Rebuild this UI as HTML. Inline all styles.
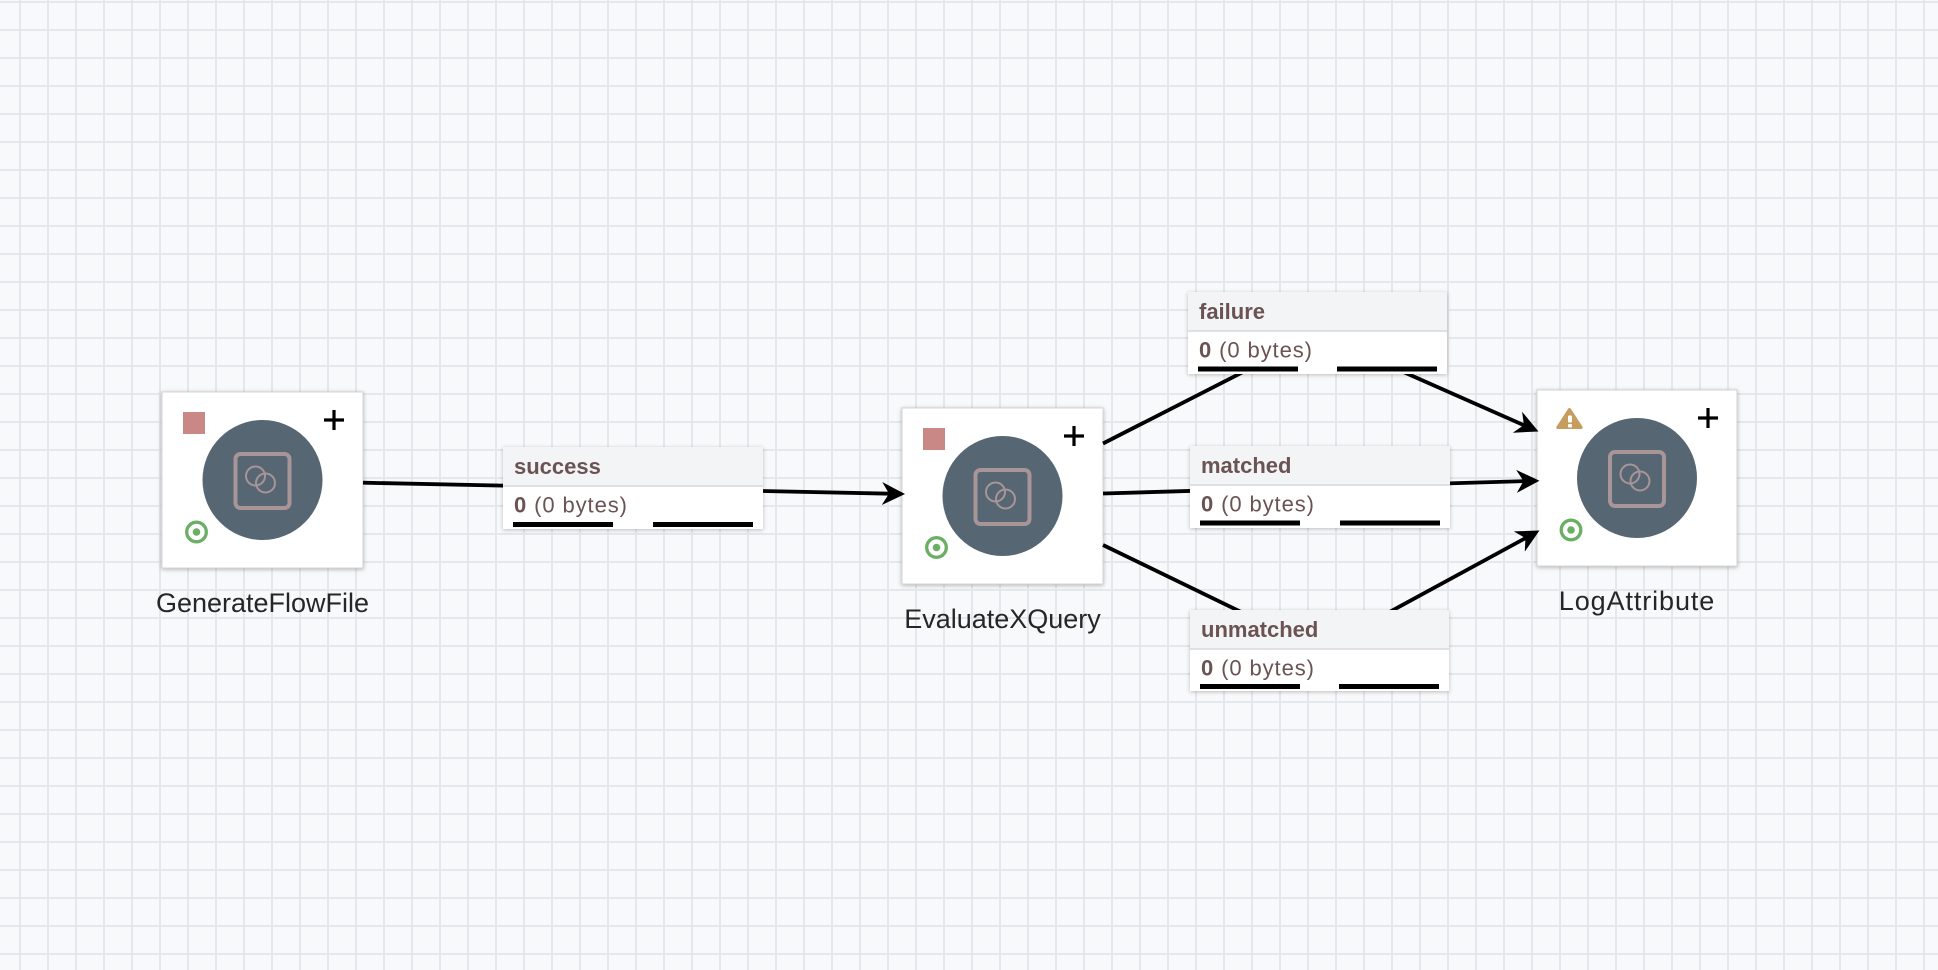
<!DOCTYPE html>
<html>
<head>
<meta charset="utf-8">
<style>
  html, body { margin:0; padding:0; }
  body {
    width:1938px; height:970px; overflow:hidden; position:relative;
    background-color:#f7f9fb;
    background-image:
      linear-gradient(to right, #e4e7eb 2px, transparent 2px),
      linear-gradient(to bottom, #e4e7eb 2px, transparent 2px);
    background-size:28px 28px, 28px 28px;
    background-position:19px 0, 0 1px;
    font-family:"Liberation Sans", Arial, sans-serif;
  }
  svg { position:absolute; left:0; top:0; }
  text { font-family:"Liberation Sans", Arial, sans-serif; }
</style>
</head>
<body>
<svg width="1938" height="970" viewBox="0 0 1938 970" xmlns="http://www.w3.org/2000/svg">
  <defs>
    <filter id="sh" x="-10%" y="-10%" width="120%" height="120%">
      <feDropShadow dx="0" dy="1" stdDeviation="2" flood-color="#000" flood-opacity="0.28"/>
    </filter>
    <filter id="sh2" x="-10%" y="-20%" width="120%" height="140%">
      <feDropShadow dx="0" dy="1" stdDeviation="2" flood-color="#000" flood-opacity="0.25"/>
    </filter>
  </defs>

  <!-- ===== Processor: GenerateFlowFile ===== -->
  <g transform="translate(162,392)">
    <rect x="0" y="0" width="201" height="176" fill="#fff" stroke="#d2d5d9" stroke-width="1" filter="url(#sh)"/>
    <rect x="21" y="20" width="22" height="22" fill="#c98786"/>
    <path d="M162 28h20M172 18v20" stroke="#000" stroke-width="3.2" fill="none"/>
    <circle cx="100.5" cy="88" r="60" fill="#566673"/>
    <rect x="73.5" y="62" width="54" height="54" rx="5" fill="none" stroke="#a89598" stroke-width="4"/>
    <circle cx="93.5" cy="84" r="9.5" fill="none" stroke="#a89598" stroke-width="2"/>
    <circle cx="103.5" cy="91" r="9.5" fill="none" stroke="#a89598" stroke-width="2"/>
    <circle cx="34.5" cy="140" r="9.8" fill="none" stroke="#6aaf63" stroke-width="3.3"/>
    <circle cx="34.5" cy="140" r="3.8" fill="#6aaf63"/>
    <text x="100.5" y="220" text-anchor="middle" font-size="27" fill="#262626">GenerateFlowFile</text>
  </g>

  <!-- ===== Processor: EvaluateXQuery ===== -->
  <g transform="translate(902,408)">
    <rect x="0" y="0" width="201" height="176" fill="#fff" stroke="#d2d5d9" stroke-width="1" filter="url(#sh)"/>
    <rect x="21" y="20" width="22" height="22" fill="#c98786"/>
    <path d="M162 28h20M172 18v20" stroke="#000" stroke-width="3.2" fill="none"/>
    <circle cx="100.5" cy="88" r="60" fill="#566673"/>
    <rect x="73.5" y="62" width="54" height="54" rx="5" fill="none" stroke="#a89598" stroke-width="4"/>
    <circle cx="93.5" cy="84" r="9.5" fill="none" stroke="#a89598" stroke-width="2"/>
    <circle cx="103.5" cy="91" r="9.5" fill="none" stroke="#a89598" stroke-width="2"/>
    <circle cx="34.5" cy="139.5" r="9.8" fill="none" stroke="#6aaf63" stroke-width="3.3"/>
    <circle cx="34.5" cy="139.5" r="3.8" fill="#6aaf63"/>
    <text x="100.5" y="220" text-anchor="middle" font-size="27" fill="#262626">EvaluateXQuery</text>
  </g>

  <!-- ===== Processor: LogAttribute ===== -->
  <g transform="translate(1537,390)">
    <rect x="0" y="0" width="200" height="176" fill="#fff" stroke="#d2d5d9" stroke-width="1" filter="url(#sh)"/>
    <polygon points="32.5,19.5 44.2,37.5 20.8,37.5" fill="#c79c5f" stroke="#c79c5f" stroke-width="3" stroke-linejoin="round"/>
    <rect x="31" y="25.5" width="4" height="7" rx="1" fill="#fff"/>
    <rect x="31" y="34" width="4" height="3.5" rx="1" fill="#fff"/>
    <path d="M161 28h20M171 18v20" stroke="#000" stroke-width="3.2" fill="none"/>
    <circle cx="100" cy="88" r="60" fill="#566673"/>
    <rect x="73" y="62" width="54" height="54" rx="5" fill="none" stroke="#a89598" stroke-width="4"/>
    <circle cx="93" cy="84" r="9.5" fill="none" stroke="#a89598" stroke-width="2"/>
    <circle cx="103" cy="91" r="9.5" fill="none" stroke="#a89598" stroke-width="2"/>
    <circle cx="34" cy="140" r="9.8" fill="none" stroke="#6aaf63" stroke-width="3.3"/>
    <circle cx="34" cy="140" r="3.8" fill="#6aaf63"/>
    <text x="100" y="220" text-anchor="middle" font-size="27" letter-spacing="0.9" fill="#262626">LogAttribute</text>
  </g>

  <!-- ===== Connections ===== -->
  <g stroke="#000" stroke-width="3.8" fill="none" stroke-linejoin="round">
    <polyline points="363,482.7 893,493.75"/>
    <polyline points="1103,443.5 1317.5,334 1527,426.6"/>
    <polyline points="1103,493.5 1527.5,481.05"/>
    <polyline points="1103,545 1319.5,650 1529,536.2"/>
  </g>
  <g fill="#000" stroke="none">
    <polygon points="905,494 881.76,505.02 889,493.67 882.24,482.02"/>
    <polygon points="1538.5,431.5 1512.8,432.7 1523.9,425.0 1522.1,411.7"/>
    <polygon points="1539.5,480.7 1516.85,492.87 1523.51,481.17 1516.17,469.87"/>
    <polygon points="1539.5,530.5 1524.78,551.59 1525.44,538.14 1513.8,531.37"/>
  </g>

  <!-- ===== Connection labels ===== -->
  <g transform="translate(503,447)">
    <rect width="260" height="82" fill="#fff" filter="url(#sh2)"/>
    <rect width="260" height="38" fill="#f3f4f6"/>
    <rect y="38" width="260" height="2" fill="#dde1e5"/>
    <text x="11" y="27" font-size="22" font-weight="bold" fill="#6b5353">success</text>
    <text x="11" y="65.5" font-size="22" letter-spacing="0.9" fill="#6b5353"><tspan font-weight="bold">0</tspan> (0 bytes)</text>
    <rect x="10" y="75" width="100" height="5" fill="#000"/>
    <rect x="150" y="75" width="100" height="5" fill="#000"/>
  </g>

  <g transform="translate(1188,292)">
    <rect width="259" height="82" fill="#fff" filter="url(#sh2)"/>
    <rect width="259" height="38" fill="#f3f4f6"/>
    <rect y="38" width="259" height="2" fill="#dde1e5"/>
    <text x="11" y="27" font-size="22" font-weight="bold" fill="#6b5353">failure</text>
    <text x="11" y="65.5" font-size="22" letter-spacing="0.9" fill="#6b5353"><tspan font-weight="bold">0</tspan> (0 bytes)</text>
    <rect x="10" y="74.5" width="100" height="5" fill="#000"/>
    <rect x="149" y="74.5" width="100" height="5" fill="#000"/>
  </g>

  <g transform="translate(1190,446)">
    <rect width="260" height="82" fill="#fff" filter="url(#sh2)"/>
    <rect width="260" height="38" fill="#f3f4f6"/>
    <rect y="38" width="260" height="2" fill="#dde1e5"/>
    <text x="11" y="27" font-size="22" font-weight="bold" fill="#6b5353">matched</text>
    <text x="11" y="65.5" font-size="22" letter-spacing="0.9" fill="#6b5353"><tspan font-weight="bold">0</tspan> (0 bytes)</text>
    <rect x="10" y="74.5" width="100" height="5" fill="#000"/>
    <rect x="150" y="74.5" width="100" height="5" fill="#000"/>
  </g>

  <g transform="translate(1190,610)">
    <rect width="259" height="81" fill="#fff" filter="url(#sh2)"/>
    <rect width="259" height="38" fill="#f3f4f6"/>
    <rect y="38" width="259" height="2" fill="#dde1e5"/>
    <text x="11" y="27" font-size="22" font-weight="bold" fill="#6b5353">unmatched</text>
    <text x="11" y="65.5" font-size="22" letter-spacing="0.9" fill="#6b5353"><tspan font-weight="bold">0</tspan> (0 bytes)</text>
    <rect x="10" y="74" width="100" height="5" fill="#000"/>
    <rect x="149" y="74" width="100" height="5" fill="#000"/>
  </g>
</svg>
</body>
</html>
